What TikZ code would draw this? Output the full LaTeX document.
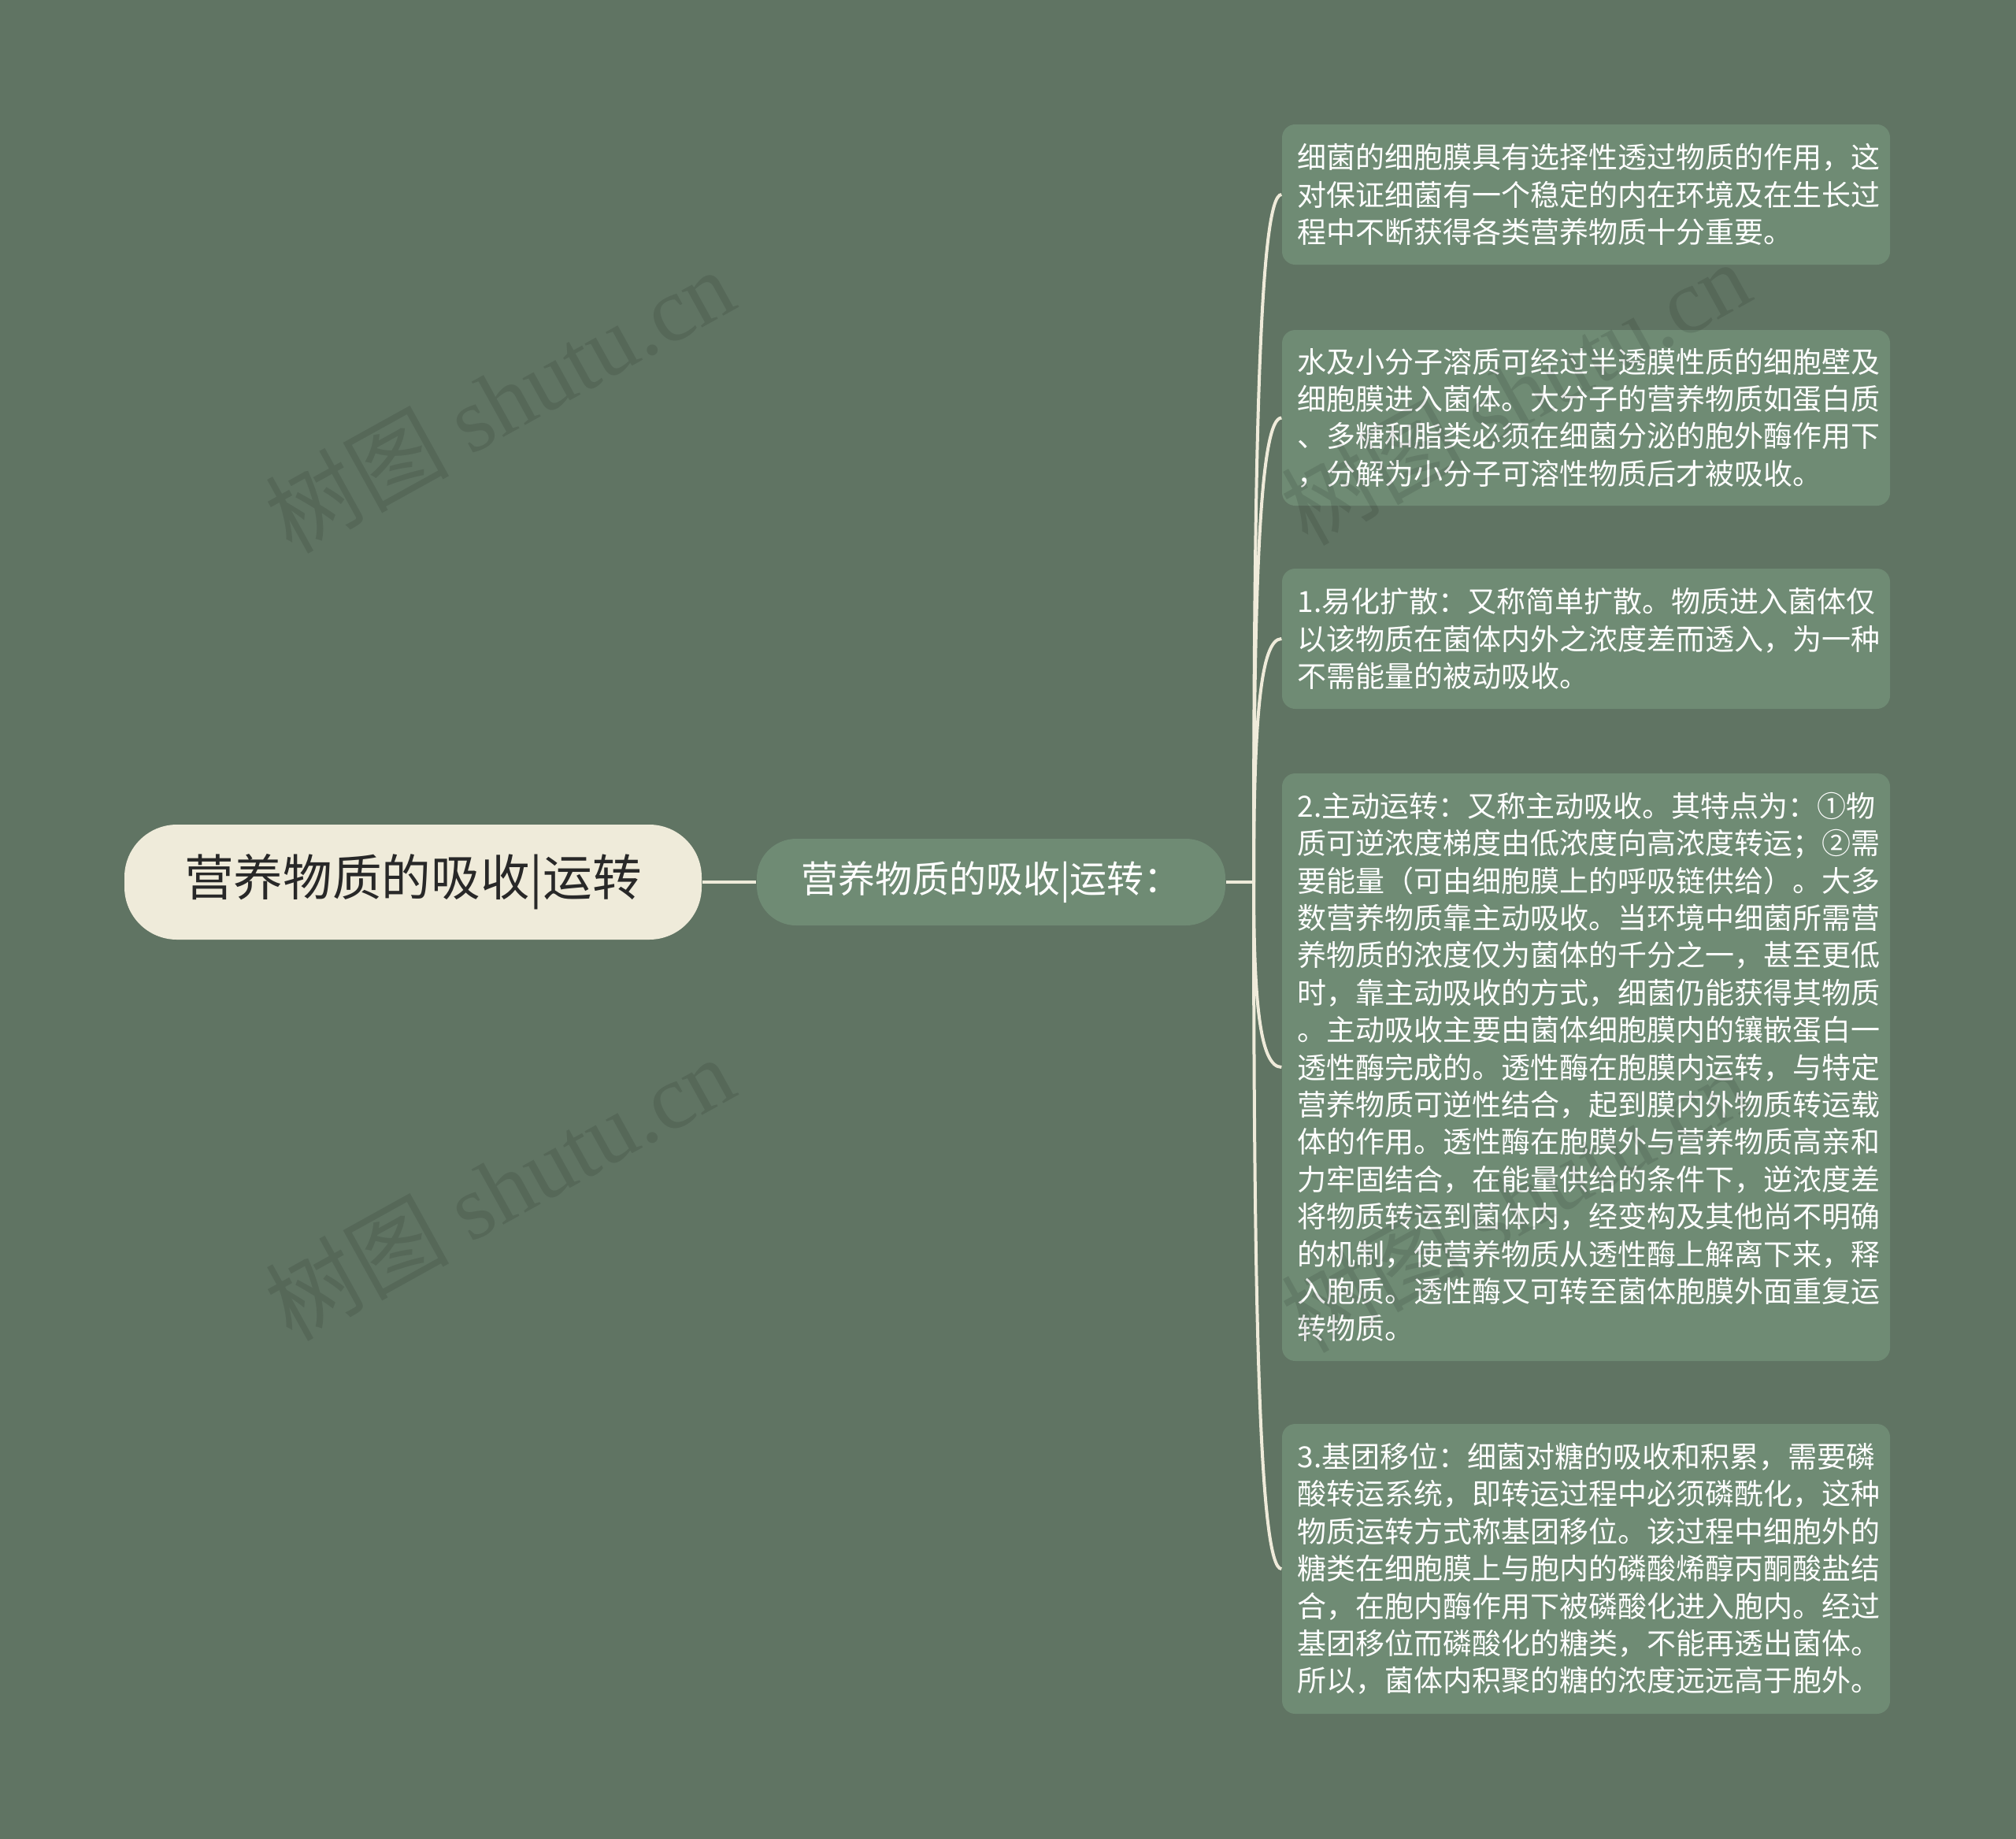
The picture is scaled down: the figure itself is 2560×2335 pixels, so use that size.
\documentclass[tikz,border=0pt]{standalone}
\usepackage{fontspec}
\setmainfont{Noto Sans CJK SC}
\newfontfamily\wmfont{Liberation Serif}
\usetikzlibrary{calc}
\definecolor{bgc}{RGB}{96,116,99}
\definecolor{boxc}{RGB}{111,139,116}
\definecolor{rootc}{RGB}{239,235,218}
\definecolor{linec}{RGB}{239,235,218}
\definecolor{roottext}{RGB}{40,40,40}
\tikzset{
  card/.style={fill=boxc, rounded corners=5pt, draw=none, inner sep=0pt, minimum width=231.6pt},
  cardtext/.style={anchor=west, align=left, text=white, inner sep=0pt, font=\fontsize{11.1pt}{14.22pt}\selectfont},
  link/.style={draw=linec, line width=1.2pt},
  wm/.style={anchor=base west, rotate=29, text=black, opacity=0.1, inner sep=0pt, font=\fontsize{35pt}{35pt}\selectfont},
  rootnode/.style={fill=rootc, text=roottext, rounded corners=20pt, inner sep=0pt, minimum width=219.9pt, minimum height=43.8pt, font=\fontsize{18.8pt}{22pt}\selectfont},
  subnode/.style={fill=boxc, text=white, rounded corners=15pt, inner sep=0pt, minimum width=178.5pt, minimum height=33pt, font=\fontsize{14.1pt}{17pt}\selectfont}
}
\begin{document}
\begin{tikzpicture}[x=0.3pt,y=-0.3pt]
\fill[bgc] (0,0) rectangle (2560,2335);
\useasboundingbox (0,0) rectangle (2560,2335);

% root and main branch
\node[rootnode] (root) at (524.5,1120) {营养物质的吸收|运转};
\node[subnode] (sub) at (1258.5,1120) {营养物质的吸收|运转：};
\coordinate (j) at (1592,1120);

% cards
\node[card, minimum height=53.4pt] (b1) at (2014,247) {};
\node[card, minimum height=66.9pt] (b2) at (2014,530.5) {};
\node[card, minimum height=53.4pt] (b3) at (2014,811) {};
\node[card, minimum height=223.8pt] (b4) at (2014,1355) {};
\node[card, minimum height=110.4pt] (b5) at (2014,1992) {};

\node[cardtext] (t1) at (1647,247) {细菌的细胞膜具有选择性透过物质的作用，这\\对保证细菌有一个稳定的内在环境及在生长过\\程中不断获得各类营养物质十分重要。};
\node[cardtext] (t2) at (1647,530.5) {水及小分子溶质可经过半透膜性质的细胞壁及\\细胞膜进入菌体。大分子的营养物质如蛋白质\\、多糖和脂类必须在细菌分泌的胞外酶作用下\\，分解为小分子可溶性物质后才被吸收。};
\node[cardtext] (t3) at (1647,811) {1.易化扩散：又称简单扩散。物质进入菌体仅\\以该物质在菌体内外之浓度差而透入，为一种\\不需能量的被动吸收。};
\node[cardtext] (t4) at (1647,1355) {2.主动运转：又称主动吸收。其特点为：①物\\质可逆浓度梯度由低浓度向高浓度转运；②需\\要能量（可由细胞膜上的呼吸链供给）。大多\\数营养物质靠主动吸收。当环境中细菌所需营\\养物质的浓度仅为菌体的千分之一，甚至更低\\时，靠主动吸收的方式，细菌仍能获得其物质\\。主动吸收主要由菌体细胞膜内的镶嵌蛋白一\\透性酶完成的。透性酶在胞膜内运转，与特定\\营养物质可逆性结合，起到膜内外物质转运载\\体的作用。透性酶在胞膜外与营养物质高亲和\\力牢固结合，在能量供给的条件下，逆浓度差\\将物质转运到菌体内，经变构及其他尚不明确\\的机制，使营养物质从透性酶上解离下来，释\\入胞质。透性酶又可转至菌体胞膜外面重复运\\转物质。};
\node[cardtext] (t5) at (1647,1992) {3.基团移位：细菌对糖的吸收和积累，需要磷\\酸转运系统，即转运过程中必须磷酰化，这种\\物质运转方式称基团移位。该过程中细胞外的\\糖类在细胞膜上与胞内的磷酸烯醇丙酮酸盐结\\合，在胞内酶作用下被磷酸化进入胞内。经过\\基团移位而磷酸化的糖类，不能再透出菌体。\\所以，菌体内积聚的糖的浓度远远高于胞外。};

% connectors
\draw[link] (root.east) -- (sub.west);
\draw[link] (sub.east) -- (j);
\foreach \b in {b1,b2,b3,b4,b5}{
  \draw[link] (j) .. controls ($(j)!0.65!(j |- \b.west)$) and ($(j |- \b.west)+(8,0)$) .. (\b.west);
}

% watermarks
\node[wm] (w1) at (370,705) {树图 {\wmfont shutu.cn}};
\node[wm] (w2) at (370,1705) {树图 {\wmfont shutu.cn}};
\node[wm] (w3) at (1660,695) {树图 {\wmfont shutu.cn}};
\node[wm] (w4) at (1660,1720) {树图 {\wmfont shutu.cn}};
\end{tikzpicture}
\end{document}
